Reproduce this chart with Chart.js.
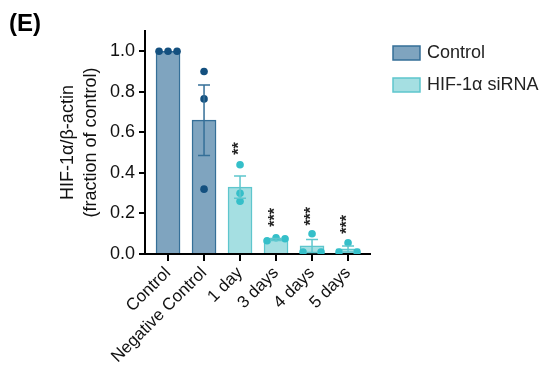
<!DOCTYPE html>
<html>
<head>
<meta charset="utf-8">
<script src="https://cdn.jsdelivr.net/npm/chart.js@4/dist/chart.umd.min.js"></script>
<style>
  html, body { margin: 0; padding: 0; background: #fff; }
  #wrap { width: 542px; height: 369px; position: relative; }
</style>
</head>
<body>
<div id="wrap"><canvas id="chart"></canvas></div>
<script>
// data
const categories = ['Control', 'Negative Control', '1 day', '3 days', '4 days', '5 days'];
const controlMeans = [1.0, 0.66, null, null, null, null];
const sirnaMeans = [null, null, 0.33, 0.072, 0.04, 0.025];
const sem = [0, 0.174, 0.055, 0.005, 0.032, 0.015];
// individual replicates: [category, x jitter, value]
const controlPoints = [[0, -0.25, 1.0], [0, 0, 1.0], [0, 0.25, 1.0],
                       [1, 0, 0.90], [1, 0, 0.765], [1, 0, 0.32]];
const sirnaPoints = [[2, 0, 0.44], [2, 0, 0.30], [2, 0, 0.26],
                     [3, -0.25, 0.065], [3, 0, 0.08], [3, 0.25, 0.075],
                     [4, -0.25, 0.01], [4, 0, 0.10], [4, 0.25, 0.01],
                     [5, -0.25, 0.01], [5, 0, 0.055], [5, 0.25, 0.01]];
const stars = ['', '', '**', '***', '***', '***'];
const starBase = [0, 0, 0.49, 0.135, 0.14, 0.10];
const yTicks = [0, 0.2, 0.4, 0.6, 0.8, 1.0];

const FONT = "'Liberation Sans', Arial, sans-serif";
const ctrlFill = '#7fa4bf', ctrlLine = '#356f98', ctrlDot = '#14507f';
const siFill = '#a5dfe2', siLine = '#5ec6cd', siDot = '#35bfc9';
const barColors = [ctrlLine, ctrlLine, siLine, siLine, siLine, siLine];

const toXY = arr => arr.map((v, i) => v === null ? null : { x: i, y: v }).filter(p => p);
const pts = arr => arr.map(p => ({ x: p[0] + p[1], y: p[2] }));

const extras = {
  id: 'extras',
  afterDatasetsDraw(chart) {
    const { ctx, scales: { x, y } } = chart;
    ctx.save();
    // error bars (mean ± SEM)
    categories.forEach((c, i) => {
      const m = controlMeans[i] !== null ? controlMeans[i] : sirnaMeans[i];
      if (!sem[i]) return;
      const cx = x.getPixelForValue(i);
      const hi = y.getPixelForValue(m + sem[i]);
      const lo = y.getPixelForValue(m - sem[i]);
      ctx.strokeStyle = barColors[i];
      ctx.lineWidth = 1.5;
      ctx.beginPath();
      ctx.moveTo(cx, hi); ctx.lineTo(cx, lo);
      ctx.moveTo(cx - 6, hi); ctx.lineTo(cx + 6, hi);
      ctx.moveTo(cx - 6, lo); ctx.lineTo(cx + 6, lo);
      ctx.stroke();
    });
    // significance stars, stacked vertically
    ctx.fillStyle = '#222';
    ctx.font = 'bold 16px ' + FONT;
    ctx.textAlign = 'left';
    ctx.textBaseline = 'middle';
    stars.forEach((s, i) => {
      if (!s) return;
      ctx.save();
      ctx.translate(x.getPixelForValue(i), y.getPixelForValue(starBase[i]));
      ctx.rotate(-Math.PI / 2);
      ctx.fillText(s, 0, 0);
      ctx.restore();
    });
    ctx.restore();
  },
  afterDraw(chart) {
    const ctx = chart.ctx;
    ctx.save();
    ctx.fillStyle = '#000';
    ctx.font = 'bold 24px ' + FONT;
    ctx.textBaseline = 'alphabetic';
    ctx.fillText('(E)', 9, 31);
    // legend for the two bar datasets
    ctx.font = '18px ' + FONT;
    ctx.textBaseline = 'middle';
    chart.data.datasets.slice(0, 2).forEach((ds, i) => {
      const top = 46 + i * 32;
      ctx.fillStyle = ds.backgroundColor;
      ctx.fillRect(393, top, 27, 14);
      ctx.strokeStyle = ds.borderColor;
      ctx.lineWidth = 1.5;
      ctx.strokeRect(393, top, 27, 14);
      ctx.fillStyle = '#222';
      ctx.fillText(ds.label, 427, top + 7.5);
    });
    ctx.restore();
  }
};

new Chart(document.getElementById('chart'), {
  data: {
    datasets: [
      { type: 'bar', label: 'Control', data: toXY(controlMeans), backgroundColor: ctrlFill,
        borderColor: ctrlLine, borderWidth: 1.5, barThickness: 24, grouped: false, order: 3 },
      { type: 'bar', label: 'HIF-1\u03b1 siRNA', data: toXY(sirnaMeans), backgroundColor: siFill,
        borderColor: siLine, borderWidth: 1.5, barThickness: 24, grouped: false, order: 3 },
      { type: 'scatter', label: 'pts1', data: pts(controlPoints), backgroundColor: ctrlDot,
        borderWidth: 0, pointRadius: 3.8, order: 1 },
      { type: 'scatter', label: 'pts2', data: pts(sirnaPoints), backgroundColor: siDot,
        borderWidth: 0, pointRadius: 3.8, order: 1 }
    ]
  },
  options: {
    responsive: true,
    maintainAspectRatio: false,
    animation: false,
    layout: { padding: { top: 31, left: 0, right: 172, bottom: 0 } },
    plugins: {
      tooltip: { enabled: false },
      legend: { display: false }
    },
    scales: {
      x: {
        type: 'linear',
        offset: false,
        min: -0.64, max: 5.61,
        afterBuildTicks: s => { s.ticks = categories.map((c, i) => ({ value: i })); },
        afterFit: s => { s.height = 115; },
        grid: { display: true, offset: false, drawOnChartArea: false, drawTicks: true, tickLength: 7, color: '#000', lineWidth: 2 },
        border: { display: true, color: '#000', width: 2 },
        ticks: {
          callback: v => categories[v],
          minRotation: 45, maxRotation: 45, autoSkip: false, padding: 2,
          color: '#111', font: { family: FONT, size: 17 }
        }
      },
      y: {
        min: 0, max: 1.1,
        afterBuildTicks: s => { s.ticks = yTicks.map(v => ({ value: v })); },
        afterFit: s => { s.width = 145; },
        grid: { display: true, drawOnChartArea: false, drawTicks: true, tickLength: 6, color: '#000', lineWidth: 2 },
        border: { display: true, color: '#000', width: 2 },
        ticks: {
          callback: v => v.toFixed(1), padding: 4,
          color: '#111', font: { family: FONT, size: 18 }
        },
        title: {
          display: true,
          text: ['HIF-1\u03b1/\u03b2-actin', '(fraction of control)'],
          color: '#111', font: { family: FONT, size: 18, lineHeight: 1.3 },
          padding: { top: 56, bottom: 0 }
        }
      }
    }
  },
  plugins: [extras]
});
</script>
</body>
</html>
